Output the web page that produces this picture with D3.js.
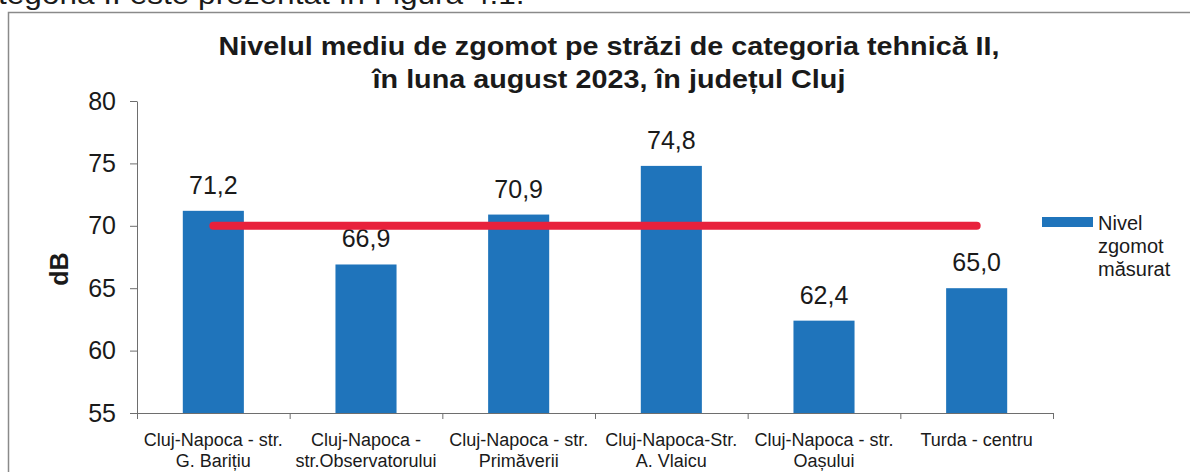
<!DOCTYPE html>
<html>
<head>
<meta charset="utf-8">
<script src="https://cdn.jsdelivr.net/npm/d3@7"></script>
<style>
  html, body { margin: 0; padding: 0; background: #fff; overflow: hidden; }
  text { font-family: "Liberation Sans", Arial, sans-serif; fill: #1a1a1a; }
</style>
</head>
<body>
<div id="chart"></div>
<script>
'use strict';

// data
const categories = [
    "Cluj-Napoca - str.\nG. Barițiu",
    "Cluj-Napoca -\nstr.Observatorului",
    "Cluj-Napoca - str.\nPrimăverii",
    "Cluj-Napoca-Str.\nA. Vlaicu",
    "Cluj-Napoca - str.\nOașului",
    "Turda - centru"
];
const noiseValues = [71.2, 66.9, 70.9, 74.8, 62.4, 65.0];
const limitValue = 70;
const yTicks = [55, 60, 65, 70, 75, 80];
const titleLines = [
    "Nivelul mediu de zgomot pe străzi de categoria tehnică II,",
    "în luna august 2023, în județul Cluj"
];
const legendLines = ["Nivel", "zgomot", "măsurat"];
const yLabel = "dB";
const pageText = "tegoria II este prezentat în Figura 4.1.";

const w = 1190, h = 472;
const barColor = "#1f74bb";
const lineColor = "#e8213c";
const axisColor = "#6e6e6e";

const svg = d3.select("#chart")
    .append("svg")
    .attr("width", w)
    .attr("height", h);

// text of the scanned page above the figure (cut by the scan)
svg.append("text")
    .attr("transform", "translate(-2,4) scale(1.17,1)")
    .attr("font-size", 27)
    .text(pageText);

// chart frame (runs off the right and bottom of the scan)
svg.append("rect")
    .attr("x", 8.5)
    .attr("y", 12.5)
    .attr("width", 1300)
    .attr("height", 600)
    .attr("fill", "none")
    .attr("stroke", "#8a8a8a")
    .attr("stroke-width", 1.5);

const x = d3.scaleBand()
    .domain(categories)
    .range([137, 1053])
    .paddingInner(0.6)
    .paddingOuter(0.3);

const y = d3.scaleLinear()
    .domain([55, 80])
    .range([413, 101]);

// boundaries between categories for the x ticks
const xb = d3.scaleLinear()
    .domain([0, categories.length])
    .range(x.range());

// title, slightly stretched like the scan
svg.selectAll("text.title")
    .data(titleLines)
    .enter()
    .append("text")
    .attr("class", "title")
    .attr("transform", (d, i) => "translate(609," + (55 + i * 33) + ") scale(1.15,1)")
    .attr("text-anchor", "middle")
    .attr("font-size", 25)
    .attr("font-weight", "bold")
    .text(d => d);

// bars
svg.selectAll("rect.bar")
    .data(noiseValues)
    .enter()
    .append("rect")
    .attr("class", "bar")
    .attr("x", (d, i) => x(categories[i]))
    .attr("y", d => y(d))
    .attr("width", x.bandwidth())
    .attr("height", d => y(55) - y(d))
    .attr("fill", barColor);

// value labels
const fmt = d3.format(".1f");
svg.selectAll("text.value")
    .data(noiseValues)
    .enter()
    .append("text")
    .attr("class", "value")
    .attr("x", (d, i) => x(categories[i]) + x.bandwidth() / 2)
    .attr("y", d => y(d) - 17)
    .attr("text-anchor", "middle")
    .attr("font-size", 25)
    .text(d => fmt(d).replace(".", ","));

// limit line
const first = categories[0], last = categories[categories.length - 1];
svg.append("line")
    .attr("x1", x(first) + x.bandwidth() / 2)
    .attr("x2", x(last) + x.bandwidth() / 2)
    .attr("y1", y(limitValue))
    .attr("y2", y(limitValue))
    .attr("stroke", lineColor)
    .attr("stroke-width", 8)
    .attr("stroke-linecap", "round");

// y axis
const yAxis = svg.append("g")
    .attr("transform", "translate(137,0)")
    .call(d3.axisLeft(y).tickValues(yTicks).tickSize(7).tickSizeOuter(0).tickPadding(14));
yAxis.selectAll("text")
    .attr("font-size", 25)
    .attr("font-family", null);
yAxis.selectAll("line, path").attr("stroke", axisColor);

// x axis
const xAxis = svg.append("g")
    .attr("transform", "translate(0,413)")
    .call(d3.axisBottom(xb).tickValues(d3.range(categories.length + 1)).tickFormat("").tickSize(6).tickSizeOuter(0));
xAxis.selectAll("line, path").attr("stroke", axisColor);

// category labels
svg.selectAll("text.cat")
    .data(categories)
    .enter()
    .append("text")
    .attr("class", "cat")
    .attr("text-anchor", "middle")
    .attr("font-size", 18)
    .each(function(d) {
        const cx = x(d) + x.bandwidth() / 2;
        d3.select(this).selectAll("tspan")
            .data(d.split("\n"))
            .enter()
            .append("tspan")
            .attr("x", cx)
            .attr("y", (t, i) => 446 + i * 21)
            .text(t => t);
    });

// y label
svg.append("text")
    .attr("transform", "translate(68,269) rotate(-90)")
    .attr("text-anchor", "middle")
    .attr("font-size", 25)
    .attr("font-weight", "bold")
    .text(yLabel);

// legend
svg.append("rect")
    .attr("x", 1042)
    .attr("y", 217)
    .attr("width", 51)
    .attr("height", 10)
    .attr("fill", barColor);

svg.append("text")
    .attr("font-size", 20)
    .selectAll("tspan")
    .data(legendLines)
    .enter()
    .append("tspan")
    .attr("x", 1098)
    .attr("y", (d, i) => 230 + i * 23)
    .text(d => d);
</script>
</body>
</html>
